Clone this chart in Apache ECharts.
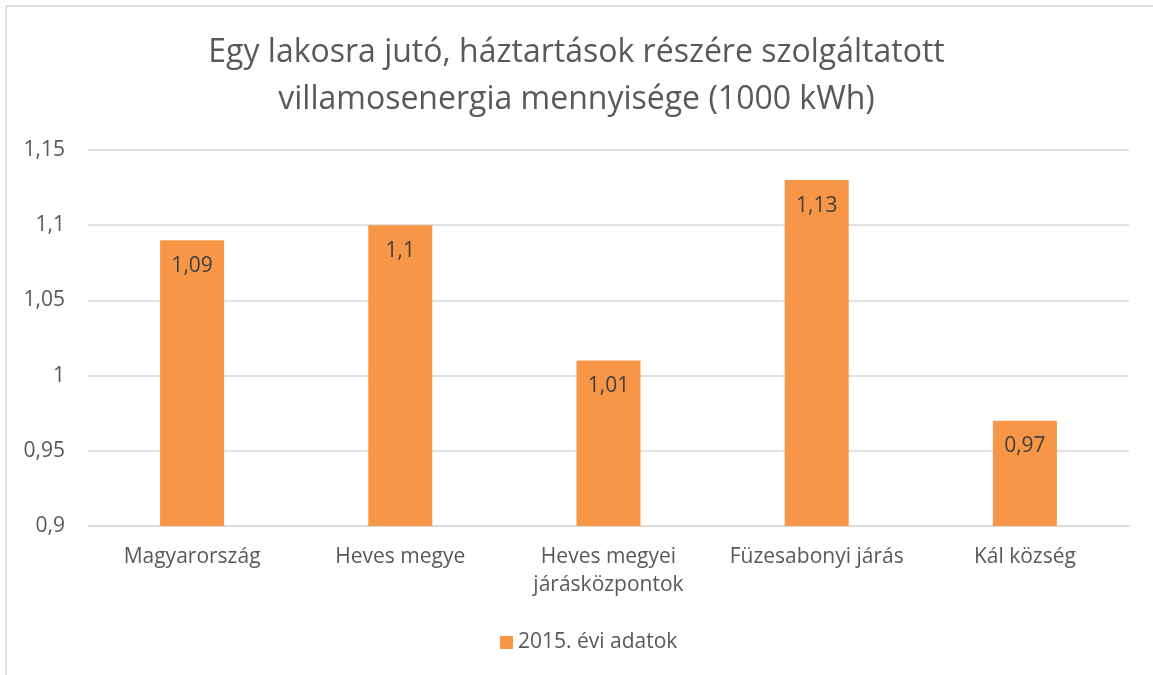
<!DOCTYPE html>
<html>
<head>
<meta charset="utf-8">
<script src="https://cdn.jsdelivr.net/npm/echarts@6/dist/echarts.min.js"></script>
<style>
  html, body { margin: 0; padding: 0; background: #fff; }
  #chart { width: 1153px; height: 675px; }
</style>
</head>
<body>
<div id="chart"></div>
<script>
// Per-capita household electricity supplied (1000 kWh), 2015
const categories = ['Magyarország', 'Heves megye', 'Heves megyei\njárásközpontok', 'Füzesabonyi járás', 'Kál község'];
const values2015 = [1.09, 1.1, 1.01, 1.13, 0.97];
const seriesName = '2015. évi adatok';
const titleText = 'Egy lakosra jutó, háztartások részére szolgáltatott\nvillamosenergia mennyisége (1000 kWh)';

const fmt = v => String(Math.round(v * 100) / 100).replace('.', ',');
const FONT = '"Open Sans", "Noto Sans", sans-serif';

const chart = echarts.init(document.getElementById('chart'));
chart.setOption({
  animation: false,
  backgroundColor: '#fff',
  graphic: [{
    type: 'rect',
    shape: { x: 6, y: 6, width: 1170, height: 690 },
    style: { fill: 'none', stroke: '#d9d9d9', lineWidth: 1.5 },
    silent: true
  }],
  title: {
    text: titleText,
    left: 'center',
    top: 24,
    textStyle: { fontFamily: FONT, fontSize: 32, fontWeight: 'normal', color: '#595959', lineHeight: 47 }
  },
  legend: {
    bottom: 17,
    left: 495,
    itemWidth: 13,
    itemHeight: 13,
    itemGap: 6,
    icon: 'rect',
    textStyle: { fontFamily: FONT, fontSize: 21, color: '#595959' },
    data: [seriesName]
  },
  grid: { left: 88, right: 24, top: 150, bottom: 149, containLabel: false },
  xAxis: {
    type: 'category',
    data: categories,
    axisLine: { lineStyle: { color: '#d9d9d9', width: 1.5 } },
    axisTick: { show: false },
    axisLabel: { interval: 0, fontFamily: FONT, fontSize: 21, color: '#595959', margin: 17, lineHeight: 28 }
  },
  yAxis: {
    type: 'value',
    min: 0.9,
    max: 1.15,
    interval: 0.05,
    axisLine: { show: false },
    axisTick: { show: false },
    splitLine: { lineStyle: { color: '#d9d9d9', width: 1.5 } },
    axisLabel: { fontFamily: FONT, fontSize: 21, color: '#595959', margin: 23, formatter: fmt }
  },
  series: [{
    name: seriesName,
    type: 'bar',
    data: values2015,
    barWidth: 64,
    itemStyle: { color: '#F79646' },
    label: {
      show: true,
      position: 'insideTop',
      distance: 15,
      fontFamily: FONT,
      fontSize: 21,
      color: '#404040',
      formatter: p => fmt(p.value)
    }
  }]
});
</script>
</body>
</html>
